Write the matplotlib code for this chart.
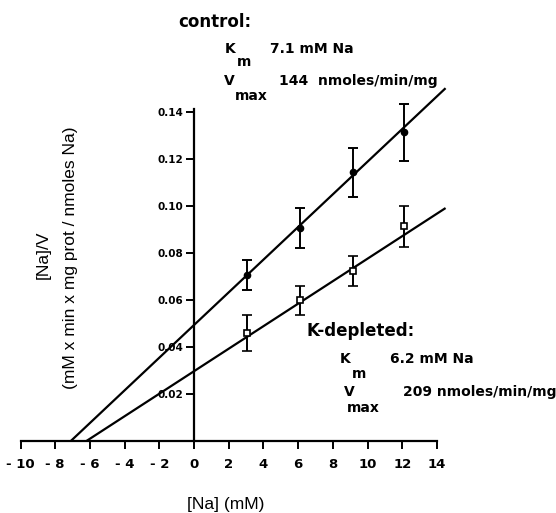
import matplotlib
matplotlib.use("Agg")
import matplotlib.pyplot as plt
import numpy as np

plt.rcParams['font.family'] = ['Liberation Sans', 'DejaVu Sans']

# measured points (Hanes-Woolf plot)
na_conc = [3.05, 6.1, 9.15, 12.1]
control_y = [0.0706, 0.0904, 0.1142, 0.1312]
control_err = [0.0064, 0.0085, 0.0103, 0.0120]
kdep_y = [0.0458, 0.0598, 0.0723, 0.0912]
kdep_err = [0.0077, 0.0061, 0.0065, 0.0087]

# kinetic parameters from the fits
control_km, control_vmax = 7.1, 144
kdep_km, kdep_vmax = 6.2, 209
line_end = 14.5

xticks = list(range(-10, 15, 2))
xtick_labels = ['- 10', '- 8', '- 6', '- 4', '- 2', '0', '2', '4', '6', '8', '10', '12', '14']
yticks = [0.02, 0.04, 0.06, 0.08, 0.10, 0.12, 0.14]
ytick_labels = ['0.02', '0.04', '0.06', '0.08', '0.10', '0.12', '0.14']

W, H = 556, 513


def main():
    fig = plt.figure(figsize=(W / 100, H / 100), dpi=100)
    # x: 0 at 194 px, 17.35 px/unit ; y: 0 at 441 px from top, 2352 px/unit
    ax = fig.add_axes([(194 - 11 * 17.35) / W, (72 - 0.01 * 2352) / H,
                       26.5 * 17.35 / W, 0.17 * 2352 / H])
    ax.set_xlim(-11, 15.5)
    ax.set_ylim(-0.01, 0.16)

    # fitted lines: [S]/V = (Km + [S]) / Vmax
    for km, vmax in [(control_km, control_vmax), (kdep_km, kdep_vmax)]:
        xs = np.array([-km, line_end])
        ax.plot(xs, (xs + km) / vmax, color='black', lw=1.6, solid_capstyle='butt')

    ax.errorbar(na_conc, control_y, yerr=control_err, fmt='o', color='black',
                ms=4.5, capsize=3.5, elinewidth=1.4, capthick=1.4)
    ax.errorbar(na_conc, kdep_y, yerr=kdep_err, fmt='s', color='black', mfc='white',
                mec='black', mew=1.2, ms=4.5, capsize=3.5, elinewidth=1.4, capthick=1.4)

    for s in ['top', 'right']:
        ax.spines[s].set_visible(False)
    ax.spines['bottom'].set_position(('data', 0))
    ax.spines['bottom'].set_bounds(-10, 14)
    ax.spines['left'].set_position(('data', 0))
    ax.spines['left'].set_bounds(0, 0.141)
    for s in ['bottom', 'left']:
        ax.spines[s].set_linewidth(1.6)

    ax.set_xticks(xticks)
    ax.set_xticklabels(xtick_labels, fontsize=9.5, fontweight='bold', family='DejaVu Sans')
    ax.set_yticks(yticks)
    ax.set_yticklabels(ytick_labels, fontsize=7.5, fontweight='bold', family='DejaVu Sans')
    ax.tick_params(axis='both', direction='out', length=6, width=1.4, pad=2)
    ax.tick_params(axis='x', pad=6)

    def t(x, y, s, size=10, **kw):
        fig.text(x / W, 1 - y / H, s, fontsize=size, fontweight='bold',
                 family='DejaVu Sans', va='baseline', **kw)

    # control annotation
    t(178, 27, 'control:', size=12)
    t(225, 53, 'K')
    t(237, 66, 'm')
    t(270, 53, '7.1 mM Na')
    t(224, 85, 'V')
    t(235, 100, 'max')
    t(279, 85, '144  nmoles/min/mg')

    # K-depleted annotation
    t(307, 336, 'K-depleted:', size=12)
    t(340, 363, 'K')
    t(352, 378, 'm')
    t(390, 363, '6.2 mM Na')
    t(344, 396, 'V')
    t(347, 412, 'max')
    t(403, 396, '209 nmoles/min/mg')

    # axis titles
    fig.text(226 / W, 1 - 505 / H, '[Na] (mM)', fontsize=12.5, ha='center', va='center')
    fig.text(43 / W, 1 - 255 / H, '[Na]/V', fontsize=12.5, rotation=90,
             ha='center', va='center')
    fig.text(71 / W, 1 - 258 / H, '(mM x min x mg prot / nmoles Na)', fontsize=12.5,
             rotation=90, ha='center', va='center')

    fig.savefig('out.png', dpi=100)


if __name__ == "__main__":
    main()
